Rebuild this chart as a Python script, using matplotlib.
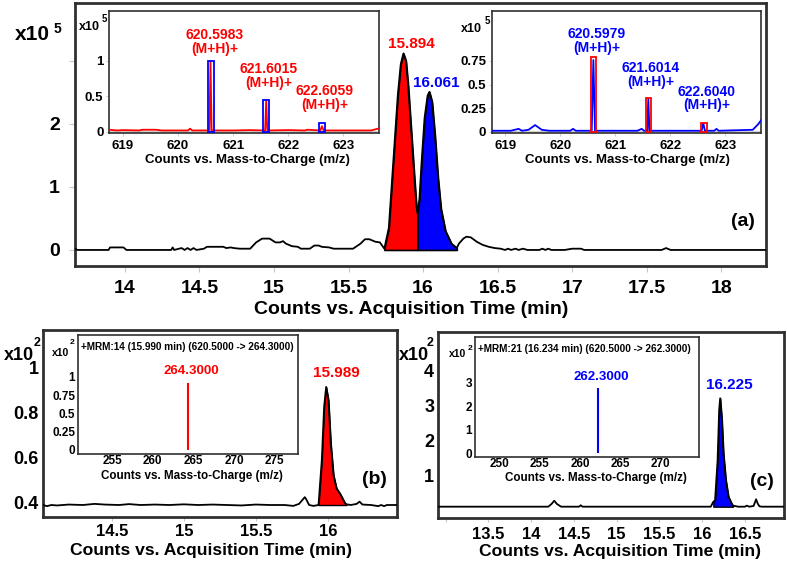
import numpy as np
import matplotlib.pyplot as plt
from matplotlib.patches import Rectangle

plt.rcParams['font.family'] = ['Liberation Sans', 'DejaVu Sans']
plt.rcParams['font.weight'] = 'bold'

W, H = 787, 564
RED = '#ff0000'
BLUE = '#0000ff'
FRAME = '#303030'
TICK = '#c8c8c8'

# (a) chromatogram, counts x10^5
tic_time = [13.66, 13.68, 13.89, 13.90, 13.99, 14.01, 14.31, 14.32, 14.33, 14.38, 14.40, 14.42,
            14.44, 14.46, 14.48, 14.53, 14.55, 14.66, 14.68, 14.71, 14.73, 14.77, 14.84, 14.88,
            14.92, 14.97, 15.01, 15.04, 15.06, 15.08, 15.12, 15.16, 15.18, 15.24, 15.27, 15.30,
            15.32, 15.37, 15.40, 15.53, 15.58, 15.61, 15.64, 15.68, 15.71, 15.74,
            15.77, 15.80, 15.83, 15.85, 15.868, 15.885, 15.90, 15.92, 15.94, 15.955, 15.962,
            15.975, 15.99, 16.01, 16.03, 16.042, 16.06, 16.08, 16.10, 16.12, 16.15, 16.19, 16.226,
            16.24, 16.27, 16.29, 16.32, 16.36, 16.40, 16.44, 16.48, 16.52, 16.55, 16.57, 16.59,
            16.62, 16.64, 16.67, 16.70, 16.78, 16.80, 16.82, 16.84, 16.86, 16.95, 17.00, 17.06,
            17.08, 17.60, 17.63, 17.66, 18.30]
tic_counts = [0.03, 0.0, 0.0, 0.04, 0.04, 0.0, 0.0, 0.04, 0.0, 0.03, 0.0, 0.03,
              0.0, 0.03, 0.0, 0.02, 0.05, 0.05, 0.03, 0.04, 0.03, 0.02, 0.02, 0.12,
              0.18, 0.18, 0.12, 0.12, 0.14, 0.10, 0.06, 0.05, 0.02, 0.02, 0.07, 0.07,
              0.05, 0.04, 0.02, 0.02, 0.10, 0.17, 0.17, 0.13, 0.12, 0.02,
              0.35, 1.40, 2.45, 2.95, 3.12, 3.00, 2.60, 1.90, 1.20, 0.70, 0.58,
              0.80, 1.40, 2.10, 2.45, 2.51, 2.35, 1.80, 1.14, 0.65, 0.30, 0.10, 0.03,
              0.10, 0.18, 0.21, 0.20, 0.13, 0.08, 0.05, 0.03, 0.02, 0.0, 0.02, 0.0,
              0.02, 0.0, 0.02, 0.0, 0.0, 0.02, 0.0, 0.02, 0.0, 0.0, 0.02, 0.02,
              0.0, 0.0, 0.03, 0.0, 0.0]
red_peak = (15.74, 15.962)
blue_peak = (15.962, 16.226)

# (a) insets: mass spectra, counts x10^5
ms_red_mz = [618.75, 618.90, 619.00, 619.30, 619.35, 619.60, 619.70, 620.18, 620.22, 620.26,
             620.57, 620.59, 620.61, 621.00, 621.30, 621.58, 621.60, 621.62, 622.00, 622.30,
             622.35, 622.58, 622.61, 622.64, 622.80, 623.50, 623.60, 623.65]
ms_red_counts = [0.03, 0.02, 0.025, 0.02, 0.03, 0.03, 0.02, 0.02, 0.045, 0.02,
                 0.02, 1.0, 0.02, 0.02, 0.025, 0.02, 0.45, 0.02, 0.025, 0.02,
                 0.03, 0.02, 0.08, 0.02, 0.02, 0.02, 0.04, 0.05]
red_iso_mz = [620.6, 621.6, 622.61]
red_iso_top = [0.99, 0.45, 0.12]
red_iso_text = ['620.5983', '621.6015', '622.6059']

ms_blue_mz = [618.75, 619.10, 619.24, 619.30, 619.42, 619.54, 619.66, 619.80, 620.18, 620.23,
              620.28, 620.57, 620.60, 620.63, 621.40, 621.48, 621.52, 621.58, 621.60, 621.62,
              622.50, 622.57, 622.60, 622.63, 622.80, 622.84, 622.88, 623.50, 623.60, 623.65]
ms_blue_counts = [0.01, 0.01, 0.03, 0.01, 0.02, 0.07, 0.02, 0.01, 0.01, 0.03,
                  0.01, 0.01, 0.76, 0.01, 0.01, 0.03, 0.01, 0.01, 0.35, 0.01,
                  0.01, 0.01, 0.09, 0.01, 0.01, 0.03, 0.01, 0.02, 0.08, 0.12]
blue_iso_mz = [620.605, 621.605, 622.61]
blue_iso_top = [0.79, 0.36, 0.09]
blue_iso_text = ['620.5979', '621.6014', '622.6040']

# (b) MRM:14 chromatogram, counts x10^2
mrm14_time = [14.02, 14.05, 14.08, 14.12, 14.20, 14.30, 14.38, 14.45, 14.55, 14.62, 14.70,
              14.80, 14.90, 15.00, 15.10, 15.20, 15.30, 15.40, 15.50, 15.60, 15.70, 15.76,
              15.80, 15.84, 15.85, 15.87, 15.90, 15.935, 15.958, 15.974, 15.988, 16.004, 16.02,
              16.039, 16.06, 16.085, 16.12, 16.13, 16.16, 16.20, 16.22, 16.24, 16.30, 16.35,
              16.37, 16.39, 16.41, 16.48]
mrm14_counts = [0.39, 0.385, 0.39, 0.388, 0.392, 0.39, 0.395, 0.392, 0.39, 0.394, 0.39,
                0.392, 0.39, 0.393, 0.39, 0.392, 0.39, 0.388, 0.392, 0.39, 0.39, 0.386,
                0.395, 0.425, 0.415, 0.39, 0.386, 0.39, 0.59, 0.827, 0.915, 0.856, 0.664,
                0.523, 0.464, 0.44, 0.397, 0.393, 0.39, 0.395, 0.405, 0.392, 0.39, 0.385,
                0.39, 0.385, 0.39, 0.39]
mrm14_peak = (15.935, 16.13)
mrm14_base = 0.39
ion14_mz, ion14_counts = 264.3, 0.92

# (c) MRM:21 chromatogram, counts x10^2
mrm21_time = [12.92, 13.20, 13.50, 13.80, 14.00, 14.20, 14.24, 14.27, 14.30, 14.35, 14.50,
              14.56, 14.58, 14.60, 14.80, 15.00, 15.50, 16.00, 16.10, 16.13, 16.15, 16.18,
              16.198, 16.21, 16.23, 16.248, 16.276, 16.307, 16.346, 16.36, 16.42, 16.50, 16.52,
              16.55, 16.60, 16.63, 16.65, 16.67, 16.70, 16.75, 16.96]
mrm21_counts = [0.12, 0.12, 0.12, 0.12, 0.12, 0.12, 0.2, 0.29, 0.2, 0.12, 0.12,
                0.12, 0.16, 0.12, 0.12, 0.12, 0.12, 0.12, 0.12, 0.26, 0.3, 1.45,
                2.87, 3.2, 2.58, 1.64, 0.88, 0.4, 0.2, 0.15, 0.12, 0.12, 0.15,
                0.12, 0.14, 0.33, 0.2, 0.13, 0.12, 0.12, 0.12]
mrm21_peak = (16.13, 16.36)
mrm21_base = 0.12
ion21_mz, ion21_counts = 262.3, 2.8

fig = plt.figure(figsize=(W / 100, H / 100), dpi=100)


def px_axes(l, t, r, b):
    return fig.add_axes([l / W, 1 - b / H, (r - l) / W, (b - t) / H])


def ptext(x, y, s, size, color='black', ha='center', ls=1.2):
    fig.text(x / W, 1 - y / H, s, ha=ha, va='center', fontsize=size,
             color=color, fontweight='bold', linespacing=ls)


def frame(ax, lw):
    for sp in ax.spines.values():
        sp.set_linewidth(lw)
        sp.set_color(FRAME)


# ---------- (a) ----------
ax = px_axes(75, 3, 766, 265.7)
t = np.array(tic_time)
c = np.array(tic_counts)
ax.fill_between(t, c, 0, where=(t >= red_peak[0]) & (t <= red_peak[1]),
                color=RED, edgecolor='black', lw=1.2, zorder=2)
ax.fill_between(t, c, 0, where=(t >= blue_peak[0]) & (t <= blue_peak[1]),
                color=BLUE, edgecolor='black', lw=1.2, zorder=2)
ax.plot(t, c, color='black', lw=1.3, zorder=3)
ax.set_xlim(13.665, 18.30)
ax.set_ylim(-0.25, 3.92)
ax.set_xticks(np.arange(14, 18.01, 0.5))
ax.set_xticklabels(['14', '14.5', '15', '15.5', '16', '16.5', '17', '17.5', '18'])
ax.set_yticks([0, 1, 2, 3])
ax.set_yticklabels(['0', '1', '2', ''])
ax.tick_params(axis='both', color=TICK, length=4, width=0.8, labelsize=14, labelcolor='black')
ax.tick_params(axis='y', pad=7)
ax.tick_params(axis='x', pad=6)
frame(ax, 2)
ptext(411, 309, 'Counts vs. Acquisition Time (min)', 14)
ptext(32.5, 35, 'x10', 15)
ptext(57, 29, '5', 10)
ptext(411, 44, '15.894', 11, RED)
ptext(436.5, 83, '16.061', 11, BLUE)
ptext(743, 222, '(a)', 14)

# inset spectra of (a)
insets = [
    (px_axes(109, 11, 379.3, 133.3), ms_red_mz, ms_red_counts, RED, BLUE,
     red_iso_mz, red_iso_top, (-0.02, 1.70), [0, 0.5, 1], ['0', '0.5', '1']),
    (px_axes(491.7, 11, 761, 133), ms_blue_mz, ms_blue_counts, BLUE, RED,
     blue_iso_mz, blue_iso_top, (-0.014, 1.28), [0, 0.25, 0.5, 0.75],
     ['0', '0.25', '0.5', '0.75']),
]
for ia, mz, cnt, col, boxcol, iso_mz, iso_top, ylim, yt, ytl in insets:
    ia.axhline(0, color='#d0d0d0', lw=1.5, zorder=1)
    ia.plot(mz, cnt, color=col, lw=1.3, zorder=3)
    for m, top in zip(iso_mz, iso_top):
        ia.add_patch(Rectangle((m - 0.05, 0), 0.1, top, fill=False,
                               edgecolor=boxcol, lw=1.3, zorder=4))
    ia.set_xlim(618.75, 623.65)
    ia.set_ylim(*ylim)
    ia.set_xticks([619, 620, 621, 622, 623])
    ia.set_yticks(yt)
    ia.set_yticklabels(ytl)
    ia.tick_params(axis='both', color=TICK, length=2, width=0.6, labelsize=9.5,
                   labelcolor='black', pad=2)
    ia.tick_params(axis='x', pad=3)
    frame(ia, 1.2)

# isotope labels: (x, y) centres in pixels
red_lab_xy = [(215, 42), (269, 76), (324.5, 98)]
blue_lab_xy = [(597, 41), (651, 75), (707, 98.5)]
for (x, y), s in zip(red_lab_xy, red_iso_text):
    ptext(x, y, s + '\n(M+H)+', 10, RED, ls=1.0)
for (x, y), s in zip(blue_lab_xy, blue_iso_text):
    ptext(x, y, s + '\n(M+H)+', 10, BLUE, ls=1.0)

ptext(247, 159.5, 'Counts vs. Mass-to-Charge (m/z)', 9.5)
ptext(627, 159.5, 'Counts vs. Mass-to-Charge (m/z)', 9.5)
ptext(89.5, 27, 'x10', 9)
ptext(104.5, 19, '5', 7)
ptext(471, 29, 'x10', 9)
ptext(487, 21, '5', 7)

# ---------- (b) and (c) ----------
panels = [
    dict(box=(42.7, 330, 397, 516.7), t=mrm14_time, c=mrm14_counts, peak=mrm14_peak,
         base=mrm14_base, col=RED, xlim=(14.02, 16.48), ylim=(0.338, 1.168),
         xt=[14.5, 15, 15.5, 16], xtl=['14.5', '15', '15.5', '16'], xpad=2.5,
         yt=[0.4, 0.6, 0.8, 1.0], ytl=['0.4', '0.6', '0.8', '1'],
         inset=(78, 335, 298.3, 454), ion=(ion14_mz, ion14_counts),
         ixlim=(250.8, 277.9), iylim=(-0.055, 1.57),
         ixt=[255, 260, 265, 270, 275], iyt=[0, 0.25, 0.5, 0.75, 1],
         iytl=['0', '0.25', '0.5', '0.75', '1'],
         title='+MRM:14 (15.990 min) (620.5000 -> 264.3000)'),
    dict(box=(438.3, 331.7, 784, 518.3), t=mrm21_time, c=mrm21_counts, peak=mrm21_peak,
         base=mrm21_base, col=BLUE, xlim=(12.915, 16.956), ylim=(-0.21, 5.09),
         xt=[13, 13.5, 14, 14.5, 15, 15.5, 16, 16.5],
         xtl=['', '13.5', '14', '14.5', '15', '15.5', '16', '16.5'], xpad=3.5,
         yt=[1, 2, 3, 4], ytl=['1', '2', '3', '4'],
         inset=(475, 336.7, 699.3, 456.7), ion=(ion21_mz, ion21_counts),
         ixlim=(246.9, 274.9), iylim=(-0.14, 4.96),
         ixt=[250, 255, 260, 265, 270], iyt=[0, 1, 2, 3],
         iytl=['0', '1', '2', '3'],
         title='+MRM:21 (16.234 min) (620.5000 -> 262.3000)'),
]
for p in panels:
    ax = px_axes(*p['box'])
    t = np.array(p['t'])
    c = np.array(p['c'])
    ax.fill_between(t, c, p['base'], where=(t >= p['peak'][0]) & (t <= p['peak'][1]),
                    color=p['col'], edgecolor='black', lw=1.0, zorder=2)
    ax.plot(t, c, color='black', lw=1.3, zorder=3)
    ax.set_xlim(*p['xlim'])
    ax.set_ylim(*p['ylim'])
    ax.set_xticks(p['xt'])
    ax.set_xticklabels(p['xtl'])
    ax.set_yticks(p['yt'])
    ax.set_yticklabels(p['ytl'])
    ax.tick_params(axis='x', color=TICK, length=3, width=0.8, labelsize=12,
                   pad=p['xpad'])
    ax.tick_params(axis='y', length=0, labelsize=13, pad=3)
    frame(ax, 2)

    ia = px_axes(*p['inset'])
    ia.vlines(p['ion'][0], 0, p['ion'][1], color=p['col'], lw=1.5)
    ia.text(0.015, 0.9, p['title'], transform=ia.transAxes, ha='left', va='center',
            fontsize=7.2, fontweight='bold')
    ia.set_xlim(*p['ixlim'])
    ia.set_ylim(*p['iylim'])
    ia.set_xticks(p['ixt'])
    ia.set_yticks(p['iyt'])
    ia.set_yticklabels(p['iytl'])
    ia.tick_params(axis='x', length=0, labelsize=8.5, pad=1)
    ia.tick_params(axis='y', length=0, labelsize=8.5, pad=2)
    frame(ia, 1.2)

ptext(191, 371.5, '%.4f' % ion14_mz, 9.5, RED)
ptext(601.5, 376.5, '%.4f' % ion21_mz, 9.5, BLUE)
ptext(211.5, 551, 'Counts vs. Acquisition Time (min)', 12.6)
ptext(620, 551.5, 'Counts vs. Acquisition Time (min)', 12.6)
ptext(191.5, 476.5, 'Counts vs. Mass-to-Charge (m/z)', 8.4)
ptext(596, 478, 'Counts vs. Mass-to-Charge (m/z)', 8.4)
ptext(336, 373, '15.989', 11, RED)
ptext(729, 385, '16.225', 11, BLUE)
ptext(374, 480, '(b)', 14)
ptext(762, 482, '(c)', 14)
ptext(18.5, 355, 'x10', 13)
ptext(37.5, 343, '2', 9)
ptext(413.5, 355, 'x10', 13)
ptext(430, 343, '2', 9)
ptext(61, 353, 'x10', 7.5)
ptext(72.5, 343, '2', 6)
ptext(457.5, 354, 'x10', 7.5)
ptext(470, 348, '2', 6)

fig.savefig('out.png', dpi=100)
